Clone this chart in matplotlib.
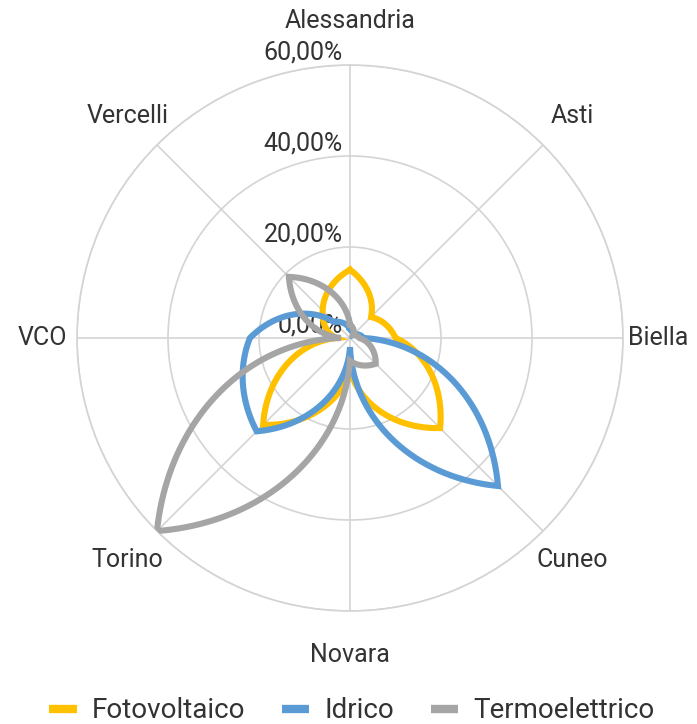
import numpy as np
import matplotlib
matplotlib.use("Agg")
import matplotlib.pyplot as plt
from matplotlib.lines import Line2D

plt.rcParams['font.family'] = ['Roboto', 'DejaVu Sans']

categories = ["Alessandria", "Asti", "Biella", "Cuneo", "Novara", "Torino", "VCO", "Vercelli"]
fotovoltaico = [15.0, 6.5, 10.0, 28.0, 7.0, 27.0, 3.0, 8.5]
idrico = [2.0, 1.0, 3.0, 46.0, 2.0, 29.0, 22.0, 5.0]
termoelettrico = [3.0, 1.0, 2.0, 8.0, 5.0, 60.0, 2.0, 19.0]
series_names = ["Fotovoltaico", "Idrico", "Termoelettrico"]
colors = ["#FFC000", "#5B9BD5", "#A5A5A5"]
rticks = [0, 20, 40, 60]
rtick_labels = ["0,00%", "20,00%", "40,00%", "60,00%"]

TXT = "#333333"
fig = plt.figure(figsize=(6.97, 7.24), dpi=100)
R = 273
cx, cy = 350, 724 - 338
ax = fig.add_axes([(cx - R) / 697, (cy - R) / 724, 2 * R / 697, 2 * R / 724], projection='polar')
ax.set_theta_zero_location('N')
ax.set_theta_direction(-1)
ax.set_ylim(0, 60)

n = len(categories)
angles = np.arange(n) * 2 * np.pi / n
ax.set_xticks(angles)
ax.set_xticklabels([])
ax.set_yticks(rticks[1:])
ax.set_yticklabels([])
ax.grid(True, color="#D4D4D4", lw=1.2)
ax.spines['polar'].set_color("#D4D4D4")
ax.spines['polar'].set_linewidth(1.2)
ax.tick_params(length=0)

# linear interpolation in polar space
dense = np.linspace(0, 2 * np.pi, 1441)
ang_closed = np.append(angles, 2 * np.pi)
for vals, col in zip([fotovoltaico, idrico, termoelettrico], colors):
    v = np.append(vals, vals[0])
    r = np.interp(dense, ang_closed, v)
    ax.plot(dense, r, color=col, lw=4.4, solid_joinstyle='miter', zorder=3)

# category labels
for a, c in zip(angles, categories):
    f = 1.128 + 0.033 * abs(np.cos(a))
    ax.text(a, 60 * f, c, ha='center', va='center', fontsize=18, color=TXT)

# radial tick labels
for rv, lab in zip(rticks, rtick_labels):
    ax.annotate(lab, xy=(0, rv), xycoords='data', xytext=(-5, 4.0), textcoords='offset points',
                ha='right', va='baseline', fontsize=18, color=TXT, zorder=2)

handles = [Line2D([0], [0], color=c, lw=6, solid_capstyle='butt') for c in colors]
fig.legend(handles, series_names, loc='center', bbox_to_anchor=(0.505, 1 - 711 / 724), ncol=3,
           frameon=False, fontsize=20, handlelength=1.0, columnspacing=1.3, handletextpad=0.55,
           labelcolor=TXT)

fig.savefig("out.png", dpi=100)
